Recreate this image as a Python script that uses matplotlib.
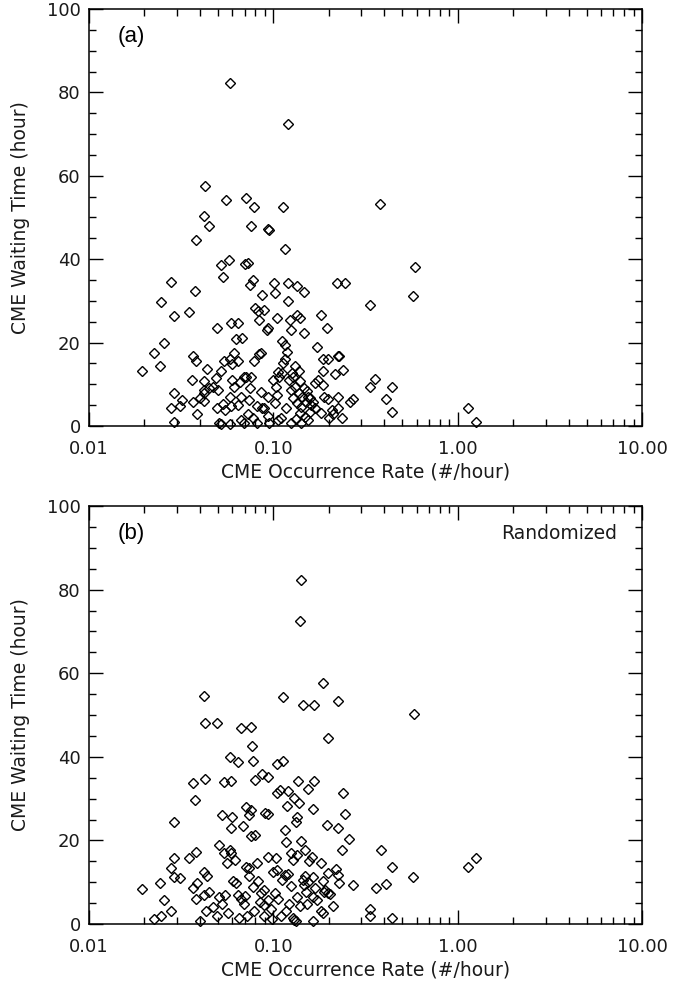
import matplotlib
matplotlib.use('Agg')
from matplotlib import pyplot as plt
from matplotlib.ticker import LogLocator, MultipleLocator, FixedFormatter, FixedLocator

# panel (a): observed CME occurrence rate vs waiting time
rate_a = [0.058, 0.12, 0.0425, 0.0557, 0.0711, 0.0785, 0.1135, 0.379, 0.042, 0.0449,
          0.076, 0.094, 0.095, 0.038, 0.115, 0.587, 0.0575, 0.0523, 0.070, 0.073,
          0.0533, 0.0277, 0.0778, 0.075, 0.0375, 0.1005, 0.1205, 0.135, 0.147, 0.221,
          0.244, 0.0247, 0.0347, 0.0289, 0.087, 0.102, 0.1205, 0.333, 0.571, 0.0795,
          0.083, 0.089, 0.105, 0.135, 0.140, 0.1228, 0.181, 0.084, 0.0586, 0.064,
          0.0496, 0.068, 0.0627, 0.092, 0.094, 0.125, 0.146, 0.1945, 0.0256, 0.0225,
          0.0243, 0.0193, 0.0365, 0.0382, 0.0436, 0.052, 0.0542, 0.058, 0.061, 0.064,
          0.060, 0.0785, 0.084, 0.086, 0.112, 0.116, 0.119, 0.116, 0.113, 0.106,
          0.172, 0.187, 0.197, 0.225, 0.227, 0.185, 0.215, 0.239, 0.131, 0.138,
          0.127, 0.128, 0.049, 0.069, 0.071, 0.076, 0.036, 0.042, 0.042, 0.050,
          0.029, 0.0318, 0.040, 0.042, 0.0386, 0.028, 0.031, 0.0367, 0.0496, 0.053,
          0.055, 0.059, 0.058, 0.061, 0.066, 0.067, 0.075, 0.074, 0.082, 0.086,
          0.089, 0.093, 0.099, 0.103, 0.105, 0.108, 0.112, 0.121, 0.124, 0.128,
          0.131, 0.137, 0.139, 0.143, 0.147, 0.152, 0.155, 0.161, 0.164, 0.168,
          0.174, 0.186, 0.189, 0.199, 0.209, 0.224, 0.225, 0.236, 0.262, 0.272,
          0.334, 0.358, 0.41, 0.438, 0.438, 1.14, 1.25, 0.029, 0.051, 0.052,
          0.058, 0.067, 0.069, 0.078, 0.082, 0.093, 0.095, 0.106, 0.110, 0.125,
          0.133, 0.139, 0.141, 0.148, 0.155, 0.159, 0.168, 0.181, 0.201, 0.21,
          0.142, 0.150, 0.159, 0.134, 0.117, 0.102, 0.045, 0.047, 0.042, 0.060,
          0.064, 0.073, 0.087]
wait_a = [82.3, 72.5, 57.6, 54.3, 54.6, 52.5, 52.5, 53.3, 50.4, 47.9,
          48.0, 47.2, 46.9, 44.5, 42.5, 38.2, 39.9, 38.7, 38.9, 39.1,
          35.8, 34.6, 35.1, 33.7, 32.3, 34.2, 34.2, 33.6, 32.2, 34.2,
          34.2, 29.7, 27.3, 26.3, 31.3, 31.8, 29.9, 29.0, 31.2, 28.3,
          27.6, 27.9, 25.9, 26.6, 26.0, 25.5, 26.6, 25.4, 24.6, 24.6,
          23.5, 21.1, 20.9, 23.0, 23.4, 23.0, 22.4, 23.6, 19.9, 17.6,
          14.4, 13.3, 16.8, 15.6, 13.6, 13.2, 15.6, 16.0, 17.4, 15.6,
          14.8, 15.5, 17.2, 17.5, 20.4, 19.4, 17.8, 16.0, 15.0, 13.0,
          18.9, 16.1, 16.0, 16.8, 16.8, 13.2, 12.4, 13.5, 14.4, 13.2,
          12.7, 11.8, 11.4, 11.8, 11.8, 11.7, 11.0, 10.8, 8.6, 8.6,
          7.8, 6.2, 6.6, 6.0, 2.8, 4.2, 4.9, 5.7, 4.2, 5.2,
          3.8, 4.8, 7.0, 9.4, 10.5, 7.0, 9.2, 6.2, 4.9, 8.2,
          4.2, 6.9, 11.0, 9.3, 7.4, 11.7, 12.8, 11.0, 8.6, 6.6,
          9.4, 7.8, 10.7, 7.0, 9.2, 8.5, 7.0, 5.0, 5.8, 10.4,
          11.0, 9.8, 7.0, 6.5, 3.8, 6.9, 4.2, 1.8, 5.7, 6.5,
          9.3, 11.3, 6.5, 9.3, 3.4, 4.3, 0.9, 0.9, 0.8, 0.4,
          0.5, 1.4, 0.6, 1.8, 0.8, 2.4, 0.8, 1.4, 1.8, 0.8,
          1.6, 3.0, 0.8, 2.2, 1.4, 3.4, 4.2, 3.0, 1.8, 2.8,
          4.6, 5.8, 6.6, 5.4, 4.2, 5.4, 9.0, 9.4, 7.8, 11.0,
          5.0, 2.8, 4.4]

# panel (b): randomized sequence
rate_b = [0.141, 0.139, 0.186, 0.042, 0.1135, 0.145, 0.166, 0.223, 0.58, 0.0427,
          0.0496, 0.067, 0.0755, 0.197, 0.0765, 0.0583, 0.064, 0.078, 0.105, 0.1135,
          0.087, 0.094, 0.0367, 0.0425, 0.054, 0.0586, 0.0793, 0.136, 0.167, 0.0375,
          0.105, 0.109, 0.1205, 0.130, 0.137, 0.155, 0.239, 0.0288, 0.0525, 0.060,
          0.0586, 0.0684, 0.0715, 0.076, 0.074, 0.090, 0.094, 0.119, 0.135, 0.133,
          0.164, 0.244, 0.116, 0.196, 0.225, 0.076, 0.080, 0.117, 0.142, 0.258,
          0.235, 0.383, 0.051, 0.054, 0.058, 0.059, 0.056, 0.062, 0.038, 0.035,
          0.0288, 0.028, 0.0288, 0.031, 0.042, 0.0436, 0.0715, 0.074, 0.082, 0.094,
          0.104, 0.105, 0.115, 0.1205, 0.124, 0.128, 0.135, 0.148, 0.156, 0.162,
          0.181, 0.219, 0.225, 0.227, 0.270, 0.362, 0.410, 0.438, 0.575, 1.14,
          1.25, 0.0193, 0.0243, 0.0256, 0.028, 0.0247, 0.0225, 0.040, 0.0366, 0.0386,
          0.038, 0.042, 0.045, 0.043, 0.047, 0.0496, 0.051, 0.0525, 0.055, 0.057,
          0.0605, 0.063, 0.064, 0.067, 0.069, 0.070, 0.0655, 0.072, 0.0775, 0.079,
          0.083, 0.086, 0.089, 0.085, 0.089, 0.089, 0.093, 0.097, 0.098, 0.102,
          0.106, 0.110, 0.117, 0.121, 0.124, 0.128, 0.130, 0.132, 0.135, 0.140,
          0.144, 0.146, 0.150, 0.152, 0.155, 0.148, 0.164, 0.168, 0.173, 0.181,
          0.186, 0.188, 0.191, 0.199, 0.203, 0.21, 0.164, 0.333, 0.333, 0.438,
          0.164, 0.186, 0.199, 0.111, 0.099, 0.074]
wait_b = [82.3, 72.6, 57.6, 54.6, 54.3, 52.5, 52.5, 53.3, 50.3, 48.0,
          48.0, 47.0, 47.2, 44.6, 42.6, 40.0, 38.8, 39.1, 38.3, 39.0,
          35.9, 35.1, 33.7, 34.8, 33.9, 34.3, 34.4, 34.3, 34.3, 29.7,
          31.3, 32.1, 31.9, 30.1, 28.9, 32.3, 31.3, 24.5, 26.1, 25.5,
          22.9, 23.4, 27.9, 27.3, 26.1, 26.6, 26.2, 28.3, 25.7, 24.5,
          27.4, 26.3, 22.6, 23.7, 22.9, 21.1, 21.2, 19.5, 19.9, 20.3,
          17.7, 17.7, 18.9, 16.9, 17.7, 17.1, 14.5, 15.3, 17.2, 15.9,
          15.7, 13.3, 11.3, 10.9, 12.5, 11.6, 13.7, 13.5, 14.7, 16.1,
          15.7, 12.9, 11.7, 11.9, 16.9, 15.3, 16.5, 17.7, 15.1, 16.1,
          14.5, 13.1, 11.7, 9.9, 9.3, 8.5, 9.6, 13.6, 11.3, 13.6,
          15.7, 8.4, 9.7, 5.7, 3.2, 1.9, 1.1, 0.6, 8.5, 9.7,
          6.1, 6.9, 7.7, 3.0, 4.1, 1.8, 6.5, 4.9, 6.9, 2.6,
          10.3, 9.7, 6.9, 6.1, 4.9, 6.7, 1.4, 1.8, 8.8, 3.2,
          10.4, 7.5, 8.1, 5.3, 4.5, 1.8, 5.7, 3.5, 1.1, 7.3,
          6.1, 1.8, 3.0, 4.9, 9.1, 1.4, 1.0, 0.8, 6.5, 4.3,
          10.5, 9.3, 7.7, 4.9, 10.1, 11.5, 6.5, 8.5, 5.7, 3.0,
          2.6, 7.7, 8.1, 7.5, 7.2, 4.4, 0.7, 3.5, 1.8, 1.5,
          11.3, 10.4, 12.1, 10.5, 12.5, 11.5]

x_ticks = [0.01, 0.1, 1.0, 10.0]
x_ticklabels = ['0.01', '0.10', '1.00', '10.00']
y_ticks = [0, 20, 40, 60, 80, 100]

TEXT_COLOR = '#1a1a1a'
TEXT_FONT = dict(family='DejaVu Sans', size=13.5, color=TEXT_COLOR)


def style_axes(ax):
    ax.set_xscale('log')
    ax.set_xlim(0.01, 10)
    ax.set_ylim(0, 100)
    ax.xaxis.set_major_locator(FixedLocator(x_ticks))
    ax.xaxis.set_major_formatter(FixedFormatter(x_ticklabels))
    ax.xaxis.set_minor_locator(LogLocator(base=10, subs=range(2, 10)))
    ax.yaxis.set_major_locator(FixedLocator(y_ticks))
    ax.yaxis.set_minor_locator(MultipleLocator(5))
    ax.tick_params(which='both', direction='in', top=True, right=True, width=1.0)
    ax.tick_params(which='major', length=10)
    ax.tick_params(which='minor', length=5)
    ax.tick_params(axis='x', which='major', pad=10)
    ax.tick_params(axis='y', which='major', pad=6)
    for lab in ax.get_xticklabels() + ax.get_yticklabels():
        lab.set_fontfamily('DejaVu Sans')
        lab.set_fontsize(13)
        lab.set_color(TEXT_COLOR)
    for sp in ax.spines.values():
        sp.set_linewidth(1.1)
    ax.set_xlabel('CME Occurrence Rate (#/hour)', labelpad=3, **TEXT_FONT)
    ax.set_ylabel('CME Waiting Time (hour)', labelpad=12, **TEXT_FONT)


fig = plt.figure(figsize=(6.99, 9.84), dpi=100)
ax_a = fig.add_axes([89 / 699, 1 - 426 / 984, 553 / 699, 417 / 984])
ax_b = fig.add_axes([89 / 699, 1 - 924 / 984, 553 / 699, 418 / 984])

for ax, xs, ys in [(ax_a, rate_a, wait_a), (ax_b, rate_b, wait_b)]:
    ax.plot(xs, ys, linestyle='none', marker='D', markersize=5.3,
            markerfacecolor='none', markeredgecolor='black', markeredgewidth=1.0,
            clip_on=False)
    style_axes(ax)

ax_a.text(0.052, 0.935, '(a)', transform=ax_a.transAxes, fontsize=16,
          family='Liberation Sans', va='center', ha='left')
ax_b.text(0.052, 0.935, '(b)', transform=ax_b.transAxes, fontsize=16,
          family='Liberation Sans', va='center', ha='left')
ax_b.text(0.955, 0.935, 'Randomized', transform=ax_b.transAxes, ha='right',
          va='center', **TEXT_FONT)

fig.savefig('out.png', dpi=100)
